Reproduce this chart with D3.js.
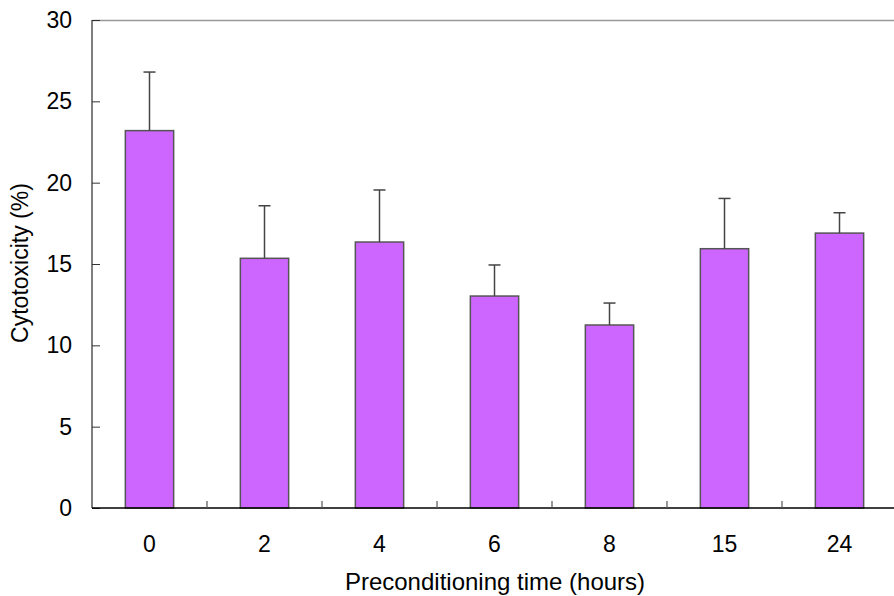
<!DOCTYPE html>
<html>
<head>
<meta charset="utf-8">
<script src="https://cdn.jsdelivr.net/npm/d3@7"></script>
<style>
  body { margin: 0; background: #fff; }
  svg { display: block; }
  svg text { font-family: "Liberation Sans", Arial, sans-serif; }
</style>
</head>
<body>
<svg id="chart" width="894" height="596"></svg>
<script>
// data
var hours = ["0", "2", "4", "6", "8", "15", "24"];
var cytotoxicity = [23.2, 15.35, 16.35, 13.03, 11.25, 15.94, 16.9];
var errorUp = [3.6, 3.23, 3.2, 1.91, 1.35, 3.09, 1.25];
var yTicks = [0, 5, 10, 15, 20, 25, 30];

var plotLeft = 92, plotTop = 20, plotRight = 897, plotBottom = 508;
var svg = d3.select("#chart");

var x = d3.scaleBand().domain(hours).range([plotLeft, plotRight]).paddingInner(0.58).paddingOuter(0.29);
var xOuter = d3.scaleBand().domain(hours).range([plotLeft, plotRight]);
var y = d3.scaleLinear().domain([0, 30]).range([plotBottom, plotTop]);

// top frame line
svg.append("line")
  .attr("x1", plotLeft).attr("x2", 894).attr("y1", plotTop + 0.5).attr("y2", plotTop + 0.5)
  .attr("stroke", "#999").attr("stroke-width", 1.5);

// bars
svg.selectAll("rect.bar").data(cytotoxicity).enter().append("rect")
  .attr("class", "bar")
  .attr("x", function(d, i) { return x(hours[i]); })
  .attr("y", function(d) { return y(d); })
  .attr("width", x.bandwidth())
  .attr("height", function(d) { return plotBottom - y(d); })
  .attr("fill", "#cc66ff")
  .attr("stroke", "#555")
  .attr("stroke-width", 1.5);

// error bars (upper only)
var errs = svg.selectAll("g.err").data(cytotoxicity).enter().append("g").attr("class", "err");
errs.append("line")
  .attr("x1", function(d, i) { return x(hours[i]) + x.bandwidth() / 2; })
  .attr("x2", function(d, i) { return x(hours[i]) + x.bandwidth() / 2; })
  .attr("y1", function(d) { return y(d); })
  .attr("y2", function(d, i) { return y(d + errorUp[i]); })
  .attr("stroke", "#444").attr("stroke-width", 1.5);
errs.append("line")
  .attr("x1", function(d, i) { return x(hours[i]) + x.bandwidth() / 2 - 6; })
  .attr("x2", function(d, i) { return x(hours[i]) + x.bandwidth() / 2 + 6; })
  .attr("y1", function(d, i) { return y(d + errorUp[i]); })
  .attr("y2", function(d, i) { return y(d + errorUp[i]); })
  .attr("stroke", "#444").attr("stroke-width", 1.5);

// y axis, ticks pointing inward
var yAxis = svg.append("g")
  .attr("transform", "translate(" + plotLeft + ",0)")
  .call(d3.axisRight(y).tickValues(yTicks).tickSize(8).tickFormat(d3.format("d")));
yAxis.select(".domain").attr("d", "M0," + plotTop + "V" + plotBottom).attr("stroke", "#555").attr("stroke-width", 1.5);
yAxis.selectAll(".tick line").attr("stroke", "#333");
yAxis.selectAll(".tick text")
  .attr("x", -20).attr("text-anchor", "end")
  .attr("font-size", 23).attr("fill", "#000");

// x axis
var xAxis = svg.append("g")
  .attr("transform", "translate(0," + plotBottom + ")")
  .call(d3.axisBottom(x).tickSize(0).tickPadding(28));
xAxis.select(".domain").attr("d", "M" + plotLeft + ",0H894").attr("stroke", "#000").attr("stroke-width", 1.5);
xAxis.selectAll(".tick text").attr("font-size", 23).attr("fill", "#000");

// category separator ticks, pointing up
svg.selectAll("line.sep").data(hours.slice(1)).enter().append("line")
  .attr("class", "sep")
  .attr("x1", function(d) { return xOuter(d); })
  .attr("x2", function(d) { return xOuter(d); })
  .attr("y1", plotBottom).attr("y2", plotBottom - 7)
  .attr("stroke", "#555").attr("stroke-width", 1.2);

// axis titles
svg.append("text")
  .attr("x", 495).attr("y", 590)
  .attr("text-anchor", "middle").attr("font-size", 24)
  .text("Preconditioning time (hours)");
svg.append("text")
  .attr("transform", "translate(28,263) rotate(-90)")
  .attr("text-anchor", "middle").attr("font-size", 23)
  .text("Cytotoxicity (%)");
</script>
</body>
</html>
